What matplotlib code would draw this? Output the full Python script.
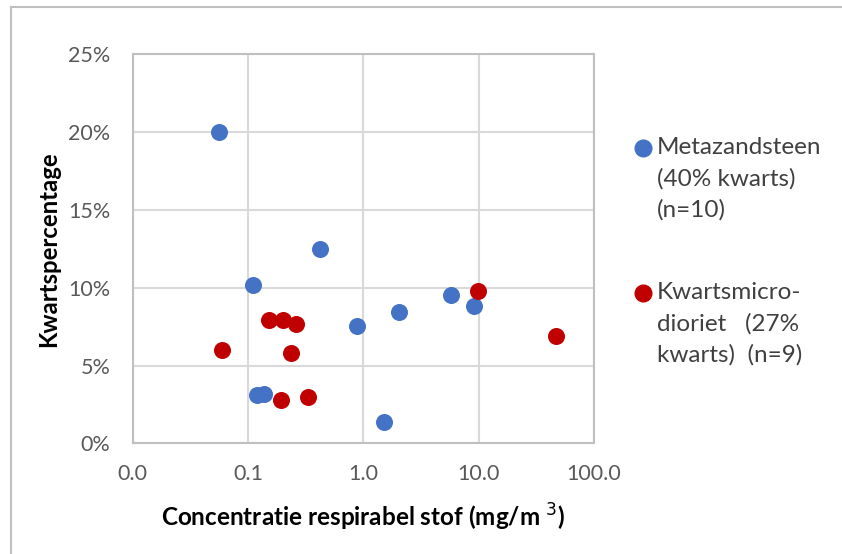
import matplotlib
matplotlib.use("Agg")
import matplotlib.pyplot as plt
from matplotlib.lines import Line2D
from matplotlib.ticker import FixedLocator, FixedFormatter, PercentFormatter

# Data
meta_x = [0.056, 0.423, 0.110, 0.891, 2.03, 5.72, 9.1, 0.1205, 0.1376, 1.514]
meta_y = [20.0, 12.5, 10.2, 7.55, 8.45, 9.55, 8.8, 3.1, 3.2, 1.35]
kmd_x = [9.86, 0.153, 0.202, 0.260, 0.0592, 0.236, 47.1, 0.192, 0.329]
kmd_y = [9.8, 7.95, 7.9, 7.65, 6.0, 5.8, 6.9, 2.8, 2.95]
x_ticks = [0.01, 0.1, 1, 10, 100]
x_tick_labels = ["0.0", "0.1", "1.0", "10.0", "100.0"]
y_ticks = [0, 5, 10, 15, 20, 25]
meta_label = "Metazandsteen\n(40% kwarts)\n(n=10)"
kmd_label = "Kwartsmicro-\ndioriet   (27%\nkwarts)  (n=9)"

blue = "#4472C4"
red = "#C00000"
plt.rcParams['font.family'] = ['Lato', 'DejaVu Sans']

fig = plt.figure(figsize=(8.42, 5.54), dpi=100)
W, H = 842, 554
ax = fig.add_axes([132.5 / W, 1 - 443.3 / H, (594 - 132.5) / W, (443.3 - 54.3) / H])

ax.scatter(meta_x, meta_y, s=150, color=blue, zorder=3, linewidths=0)
ax.scatter(kmd_x, kmd_y, s=150, color=red, zorder=3, linewidths=0)

ax.set_xscale('log')
ax.set_xlim(0.01, 100)
ax.set_ylim(0, 25)
ax.xaxis.set_major_locator(FixedLocator(x_ticks))
ax.xaxis.set_major_formatter(FixedFormatter(x_tick_labels))
ax.xaxis.set_minor_locator(FixedLocator([]))
ax.yaxis.set_major_locator(FixedLocator(y_ticks))
ax.yaxis.set_major_formatter(PercentFormatter(decimals=0))

ax.grid(True, color="#D9D9D9", linewidth=1.5, zorder=0)
ax.set_axisbelow(True)
for sp in ax.spines.values():
    sp.set_color("#BFBFBF")
    sp.set_linewidth(1.5)
ax.tick_params(length=0, labelsize=15.5, labelcolor="#595959")
ax.tick_params(axis='x', pad=15)
ax.tick_params(axis='y', pad=16)

ax.set_xlabel("Concentratie respirabel stof (mg/m $^{3}$)", fontsize=17.5, fontweight='bold', labelpad=13)
ax.set_ylabel("Kwartspercentage", fontsize=17.2, fontweight='bold', labelpad=6)

# Legend (manual, Excel-style with marker at first line)
fig.add_artist(Line2D([643 / W], [1 - 148 / H], marker='o', markersize=12, color=blue, linestyle='none', transform=fig.transFigure))
fig.add_artist(Line2D([643 / W], [1 - 293 / H], marker='o', markersize=12, color=red, linestyle='none', transform=fig.transFigure))
fig.text(657 / W, 1 - 137 / H, meta_label, fontsize=17.5, va='top', ha='left', color="#404040", linespacing=1.55)
fig.text(657 / W, 1 - 282 / H, kmd_label, fontsize=17.5, va='top', ha='left', color="#404040", linespacing=1.55)

# Chart area border (left and top)
fig.add_artist(Line2D([11 / W, 11 / W], [0, 1 - 6.5 / H], color="#BFBFBF", linewidth=1.5, transform=fig.transFigure))
fig.add_artist(Line2D([11 / W, 1], [1 - 6.5 / H, 1 - 6.5 / H], color="#BFBFBF", linewidth=1.5, transform=fig.transFigure))

fig.savefig("out.png", dpi=100)
